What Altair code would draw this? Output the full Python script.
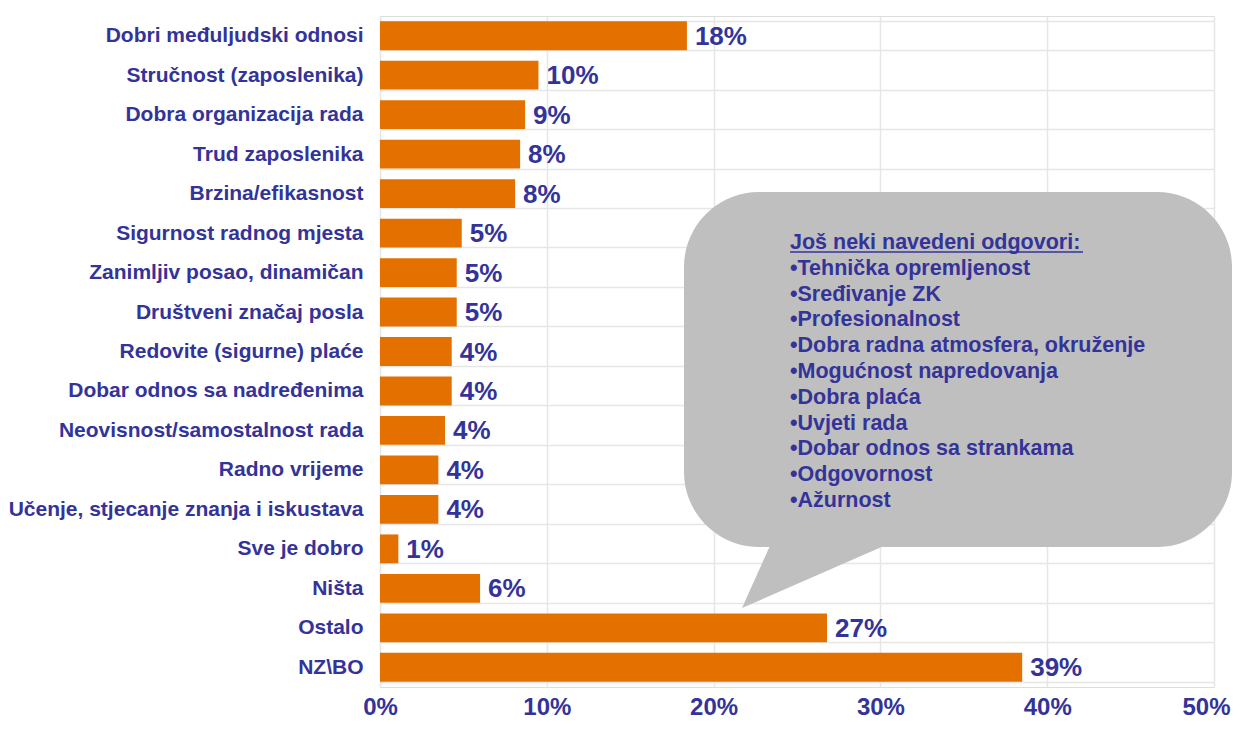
import altair as alt
import pandas as pd

categories = [
    "Dobri međuljudski odnosi", "Stručnost (zaposlenika)", "Dobra organizacija rada",
    "Trud zaposlenika", "Brzina/efikasnost", "Sigurnost radnog mjesta",
    "Zanimljiv posao, dinamičan", "Društveni značaj posla", "Redovite (sigurne) plaće",
    "Dobar odnos sa nadređenima", "Neovisnost/samostalnost rada", "Radno vrijeme",
    "Učenje, stjecanje znanja i iskustava", "Sve je dobro", "Ništa", "Ostalo", "NZ\\BO",
]
values = [18.4, 9.5, 8.7, 8.4, 8.1, 4.9, 4.6, 4.6, 4.3, 4.3, 3.9, 3.5, 3.5, 1.1, 6.0, 26.8, 38.5]
labels = ["18%", "10%", "9%", "8%", "8%", "5%", "5%", "5%", "4%", "4%", "4%", "4%", "4%",
          "1%", "6%", "27%", "39%"]

note_lines = [
    "Još neki navedeni odgovori:",
    "•Tehnička opremljenost",
    "•Sređivanje ZK",
    "•Profesionalnost",
    "•Dobra radna atmosfera, okruženje",
    "•Mogućnost napredovanja",
    "•Dobra plaća",
    "•Uvjeti rada",
    "•Dobar odnos sa strankama",
    "•Odgovornost",
    "•Ažurnost",
]
x_ticks = [0, 10, 20, 30, 40, 50]

FONT = "Liberation Sans"
NAVY = "#333399"
ORANGE = "#E47000"
GRID = "#E6E6E6"
BUBBLE = "#BFBFBF"

df = pd.DataFrame({"cat": categories, "val": values, "lab": labels})
one = pd.DataFrame({"a": [0]})

y_enc = alt.Y(
    "cat:N", sort=None, title=None,
    scale=alt.Scale(paddingInner=0.27, paddingOuter=0.135),
    axis=alt.Axis(
        labelFont=FONT, labelFontSize=21, labelFontWeight="bold", labelColor=NAVY,
        labelPadding=17, labelLimit=500, ticks=False, domain=False,
        grid=True, gridColor=GRID, gridWidth=1.5, tickBand="extent",
    ),
)
x_enc = alt.X(
    "val:Q", title=None,
    scale=alt.Scale(domain=[0, 50], nice=False),
    axis=alt.Axis(
        values=x_ticks, labelExpr="datum.value + '%'", labelFlush=False,
        labelAlign={"condition": {"test": "datum.value == 50", "value": "right"}, "value": "center"},
        labelOffset={"condition": {"test": "datum.value == 50", "value": 16}, "value": 0},
        labelFont=FONT, labelFontSize=24, labelFontWeight="bold", labelColor=NAVY,
        labelPadding=8, ticks=False, domain=False,
        grid=True, gridColor=GRID, gridWidth=1.5,
    ),
)

bars = alt.Chart(df).mark_bar(color=ORANGE).encode(x=x_enc, y=y_enc)
vals = alt.Chart(df).mark_text(
    align="left", baseline="middle", dx=8, dy=1,
    font=FONT, fontSize=26, fontWeight="bold", color=NAVY,
).encode(x="val:Q", y=alt.Y("cat:N", sort=None), text="lab:N")

bubble = alt.Chart(one).mark_rect(color=BUBBLE, cornerRadius=75).encode(
    x=alt.value(304), x2=alt.value(852), y=alt.value(176), y2=alt.value(531)
)
tail = alt.Chart(one).mark_point(
    shape="M -0.88 0.38 L -0.52 -0.42 L 0.95 -0.42 Z",
    filled=True, fill=BUBBLE, strokeWidth=0, opacity=1, size=40000,
).encode(x=alt.value(450), y=alt.value(554))

note = alt.Chart(one).mark_text(
    align="left", baseline="alphabetic", lineHeight=25.8,
    font=FONT, fontSize=21.5, fontWeight="bold", color=NAVY,
    text=note_lines,
).encode(x=alt.value(410), y=alt.value(233))
underline = alt.Chart(one).mark_rule(color=NAVY, strokeWidth=1.5).encode(
    x=alt.value(410), x2=alt.value(703), y=alt.value(236)
)

chart = alt.layer(bars, vals, bubble, tail, note, underline).properties(
    width=834, height=671,
    autosize=alt.AutoSizeParams(type="none"),
    padding={"left": 372, "top": 8, "right": 18, "bottom": 33},
).configure_view(stroke=GRID, strokeWidth=1.5).configure(background="white")

chart.save("out.html", embed_options={"renderer": "svg", "actions": False})
